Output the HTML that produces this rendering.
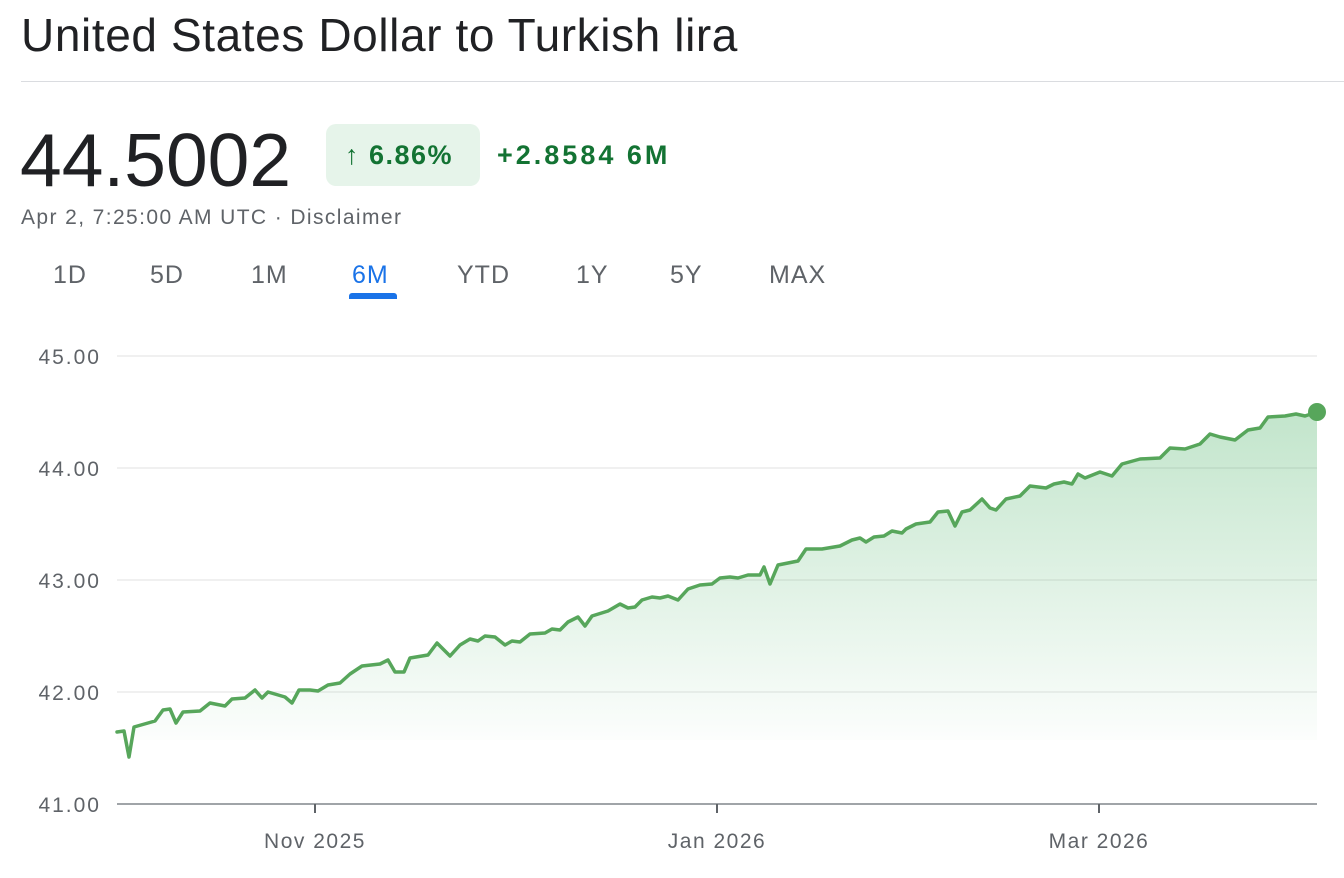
<!DOCTYPE html>
<html><head><meta charset="utf-8"><style>
body{margin:0;background:#fff;font-family:"Liberation Sans",Arial,sans-serif;width:1344px;height:878px;overflow:hidden;position:relative;color:#202124}
.a{position:absolute;white-space:nowrap}
</style></head><body>
<div class="a" style="left:21px;top:8px;font-size:46px;letter-spacing:0.6px;color:#202124">United States Dollar to Turkish lira</div>
<div style="position:absolute;left:21px;top:81px;width:1323px;height:1px;background:#dadce0"></div>
<div class="a" style="left:20px;top:117px;font-size:75px;color:#202124">44.5002</div>
<div style="position:absolute;left:326px;top:124px;width:154px;height:62px;border-radius:10px;background:#e6f4ea"></div>
<div class="a" style="left:345px;top:140px;font-size:27px;font-weight:bold;letter-spacing:1.5px;color:#137333">↑ 6.86%</div>
<div class="a" style="left:497px;top:140px;font-size:27px;font-weight:bold;letter-spacing:3px;color:#137333">+2.8584 6M</div>
<div class="a" style="left:21px;top:206px;font-size:21px;letter-spacing:1.4px;color:#5f6368">Apr 2, 7:25:00 AM UTC · Disclaimer</div>
<div class="a" style="left:53px;top:261px;font-size:25px;letter-spacing:1px;color:#5f6368">1D</div>
<div class="a" style="left:150px;top:261px;font-size:25px;letter-spacing:1px;color:#5f6368">5D</div>
<div class="a" style="left:251px;top:261px;font-size:25px;letter-spacing:1px;color:#5f6368">1M</div>
<div class="a" style="left:352px;top:261px;font-size:25px;letter-spacing:1px;color:#1a73e8">6M</div>
<div style="position:absolute;left:349px;top:293px;width:48px;height:6px;border-radius:3px 3px 0 0;background:#1a73e8"></div>
<div class="a" style="left:457px;top:261px;font-size:25px;letter-spacing:1px;color:#5f6368">YTD</div>
<div class="a" style="left:576px;top:261px;font-size:25px;letter-spacing:1px;color:#5f6368">1Y</div>
<div class="a" style="left:670px;top:261px;font-size:25px;letter-spacing:1px;color:#5f6368">5Y</div>
<div class="a" style="left:769px;top:261px;font-size:25px;letter-spacing:1px;color:#5f6368">MAX</div>
<svg class="a" style="left:0;top:0" width="1344" height="878">
<defs><linearGradient id="g" x1="0" y1="0" x2="0" y2="1"><stop offset="0" stop-color="#34a853" stop-opacity="0.3"/><stop offset="1" stop-color="#34a853" stop-opacity="0"/></linearGradient></defs>
<g stroke="#ececec" stroke-width="1.5"><line x1="117" y1="356" x2="1317" y2="356"/><line x1="117" y1="468" x2="1317" y2="468"/><line x1="117" y1="580" x2="1317" y2="580"/><line x1="117" y1="692" x2="1317" y2="692"/></g>
<line x1="117" y1="804" x2="1317" y2="804" stroke="#80868b" stroke-width="1.5"/>
<g stroke="#5f6368" stroke-width="2"><line x1="315" y1="804" x2="315" y2="813"/><line x1="717" y1="804" x2="717" y2="813"/><line x1="1099" y1="804" x2="1099" y2="813"/></g>
<g font-family="Liberation Sans,Arial,sans-serif" font-size="21" fill="#5f6368" text-anchor="end" letter-spacing="2"><text x="101" y="364">45.00</text><text x="101" y="476">44.00</text><text x="101" y="588">43.00</text><text x="101" y="700">42.00</text><text x="101" y="812">41.00</text></g>
<g font-family="Liberation Sans,Arial,sans-serif" font-size="21" fill="#5f6368" text-anchor="middle" letter-spacing="1.5"><text x="315" y="848">Nov 2025</text><text x="717" y="848">Jan 2026</text><text x="1099" y="848">Mar 2026</text></g>
<path d="M117,732 L124,731 L129,757 L134,727 L155,721 L163,710 L170,709 L176,723 L183,712 L200,711 L210,703 L225,706 L232,699 L245,698 L255,690 L262,698 L268,692 L285,697 L292,703 L299,690 L310,690 L318,691 L328,685 L340,683 L350,674 L362,666 L380,664 L388,660 L395,672 L404,672 L410,658 L428,655 L437,643 L450,656 L460,645 L470,639 L478,641 L485,636 L495,637 L505,645 L512,641 L520,642 L530,634 L545,633 L552,629 L560,630 L568,622 L578,617 L585,626 L592,616 L608,611 L620,604 L628,608 L635,607 L642,600 L652,597 L660,598 L668,596 L678,600 L688,589 L700,585 L712,584 L720,578 L730,577 L738,578 L748,575 L760,575 L764,567 L770,584 L778,565 L798,561 L806,549 L822,549 L840,546 L852,540 L860,538 L866,542 L874,537 L884,536 L892,531 L902,533 L906,529 L916,524 L930,522 L938,512 L948,511 L955,526 L962,512 L970,510 L982,499 L990,508 L996,510 L1006,499 L1020,496 L1030,486 L1046,488 L1054,484 L1064,482 L1072,484 L1078,474 L1085,478 L1100,472 L1112,476 L1122,464 L1140,459 L1160,458 L1170,448 L1185,449 L1200,444 L1210,434 L1220,437 L1235,440 L1248,430 L1260,428 L1268,417 L1285,416 L1296,414 L1305,416 L1317,412 L1317,740 L117,740 Z" fill="url(#g)"/>
<path d="M117,732 L124,731 L129,757 L134,727 L155,721 L163,710 L170,709 L176,723 L183,712 L200,711 L210,703 L225,706 L232,699 L245,698 L255,690 L262,698 L268,692 L285,697 L292,703 L299,690 L310,690 L318,691 L328,685 L340,683 L350,674 L362,666 L380,664 L388,660 L395,672 L404,672 L410,658 L428,655 L437,643 L450,656 L460,645 L470,639 L478,641 L485,636 L495,637 L505,645 L512,641 L520,642 L530,634 L545,633 L552,629 L560,630 L568,622 L578,617 L585,626 L592,616 L608,611 L620,604 L628,608 L635,607 L642,600 L652,597 L660,598 L668,596 L678,600 L688,589 L700,585 L712,584 L720,578 L730,577 L738,578 L748,575 L760,575 L764,567 L770,584 L778,565 L798,561 L806,549 L822,549 L840,546 L852,540 L860,538 L866,542 L874,537 L884,536 L892,531 L902,533 L906,529 L916,524 L930,522 L938,512 L948,511 L955,526 L962,512 L970,510 L982,499 L990,508 L996,510 L1006,499 L1020,496 L1030,486 L1046,488 L1054,484 L1064,482 L1072,484 L1078,474 L1085,478 L1100,472 L1112,476 L1122,464 L1140,459 L1160,458 L1170,448 L1185,449 L1200,444 L1210,434 L1220,437 L1235,440 L1248,430 L1260,428 L1268,417 L1285,416 L1296,414 L1305,416 L1317,412" fill="none" stroke="#57a65b" stroke-width="3.5" stroke-linejoin="round" stroke-linecap="round"/>
<circle cx="1317" cy="412" r="9" fill="#57a65b"/>
</svg>
</body></html>
